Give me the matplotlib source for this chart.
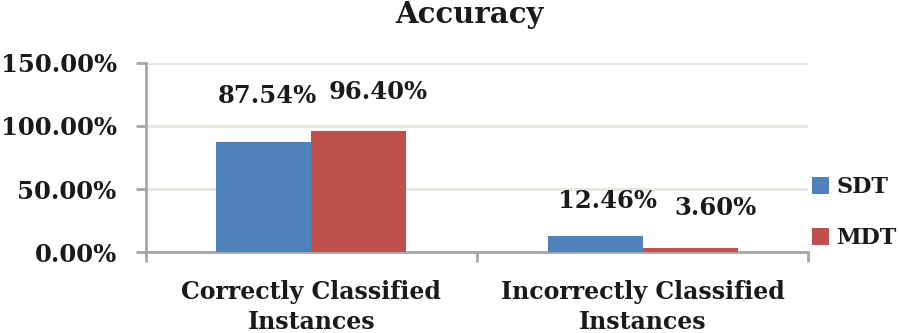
"""Accuracy bar chart: SDT vs MDT, correctly / incorrectly classified instances."""

import matplotlib
matplotlib.use("Agg")
import matplotlib.pyplot as plt
import numpy as np
from matplotlib.ticker import FuncFormatter

# ---------------------------------------------------------------------------
# Data
# ---------------------------------------------------------------------------
categories = ["Correctly Classified\nInstances", "Incorrectly Classified\nInstances"]
series_names = ["SDT", "MDT"]
sdt_values = [87.54, 12.46]
mdt_values = [96.40, 3.60]
y_ticks = [0, 50, 100, 150]

colors = {"SDT": "#4F81BD", "MDT": "#C0504D"}
spine_color = "#A6A6A6"
grid_color = "#E6E6DE"
text_color = "#1a1a1a"

plt.rcParams["font.family"] = ["DejaVu Serif"]
plt.rcParams["font.weight"] = "bold"

fig = plt.figure(figsize=(9, 3.33), dpi=100)
ax = fig.add_axes([0.162, 0.243, 0.736, 0.568])

x = np.arange(len(categories))
width = 0.287
bars_sdt = ax.bar(x - width / 2, sdt_values, width, color=colors["SDT"], label="SDT", zorder=3)
bars_mdt = ax.bar(x + width / 2, mdt_values, width, color=colors["MDT"], label="MDT", zorder=3)

# data labels (pixel offsets relative to bar top)
label_offsets = {
    "SDT": [(4, 34), (12, 23)],
    "MDT": [(19, 27), (25, 28)],
}
for name, bars, vals in (("SDT", bars_sdt, sdt_values), ("MDT", bars_mdt, mdt_values)):
    for bar, v, off in zip(bars, vals, label_offsets[name]):
        ax.annotate(f"{v:.2f}%",
                    xy=(bar.get_x() + bar.get_width() / 2, bar.get_height()),
                    xytext=off, textcoords="offset pixels",
                    ha="center", va="bottom", fontsize=17.5, fontweight="bold",
                    color=text_color)

ax.set_xlim(-0.5, len(categories) - 0.5)
ax.set_ylim(0, 150)
ax.set_yticks(y_ticks)
ax.yaxis.set_major_formatter(FuncFormatter(lambda v, _: f"{v:.2f}%"))
ax.set_xticks(x)
ax.set_xticklabels(categories, fontsize=17, fontweight="bold", linespacing=1.3)
ax.set_xticks(np.arange(-0.5, len(categories)), minor=True)

ax.tick_params(axis="x", which="major", length=0, pad=20, colors=text_color)
ax.tick_params(axis="x", which="minor", length=7, width=2, color=spine_color)
ax.tick_params(axis="y", length=7, width=2, color=spine_color, labelsize=17.5,
               labelcolor=text_color, pad=14)

ax.grid(axis="y", color=grid_color, linewidth=2, zorder=0)
for side in ("top", "right"):
    ax.spines[side].set_visible(False)
for side in ("left", "bottom"):
    ax.spines[side].set_color(spine_color)
    ax.spines[side].set_linewidth(2)

fig.text(0.522, 0.955, "Accuracy", ha="center", va="center",
         fontsize=21, fontweight="bold", color=text_color)

leg = ax.legend(loc="center left", bbox_to_anchor=(0.975, 0.21), frameon=False,
                fontsize=16, handlelength=0.8, handleheight=0.8,
                handletextpad=0.3, labelspacing=1.3)
for t in leg.get_texts():
    t.set_fontweight("bold")
    t.set_color(text_color)

fig.savefig("out.png", dpi=100)
